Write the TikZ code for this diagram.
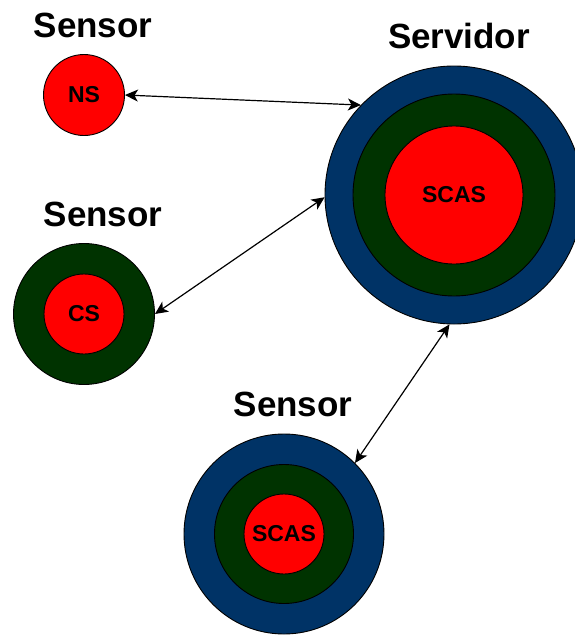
\documentclass[tikz,border=0pt]{standalone}
\usepackage{fontspec}
\setmainfont{Liberation Sans}
\usetikzlibrary{positioning,arrows.meta}

\definecolor{ringblue}{RGB}{0,51,102}
\definecolor{ringgreen}{RGB}{0,51,0}
\definecolor{corered}{RGB}{255,0,0}

\begin{document}
\begin{tikzpicture}[
  x=1pt, y=-1pt,
  ring/.style={draw=black, circle, line width=0.9pt, inner sep=0pt},
  blue ring/.style={ring, fill=ringblue, minimum size=#1},
  green ring/.style={ring, fill=ringgreen, minimum size=#1},
  core/.style={ring, fill=corered, minimum size=#1,
    font=\fontsize{23}{26}\selectfont\bfseries},
  title/.style={font=\fontsize{35}{40}\selectfont\bfseries},
  link/.style={{Stealth[length=13pt,width=12pt,inset=3.5pt]}-{Stealth[length=13pt,width=12pt,inset=3.5pt]}, line width=1.2pt},
]
\useasboundingbox (0,0) rectangle (574,635);

% server: three rings
\node[blue ring=258pt] (srv) at (454,195) {};
\node[green ring=202pt] (srvmid) at (srv.center) {};
\node[core=138pt] (srvcore) at (srv.center) {SCAS};
\node[title] (srvlbl) at (459,36) {Servidor};

% sensor with only the core
\node[core=81pt] (ns) at (84,95) {NS};
\node[title] (nslbl) at (93,25) {Sensor};

% sensor with two rings
\node[green ring=141pt] (cs) at (84,314) {};
\node[core=80pt] (cscore) at (cs.center) {CS};
\node[title] (cslbl) at (103,214) {Sensor};

% sensor with all three rings
\node[blue ring=200pt] (sc) at (284,534) {};
\node[green ring=139pt] (scmid) at (sc.center) {};
\node[core=80pt] (sccore) at (sc.center) {SCAS};
\node[title] (sclbl) at (293,404) {Sensor};

% links to the server
\draw[link] (ns.east) -- (srv.136);
\draw[link] (cs.east) -- (srv.181);
\draw[link] (sc.45) -- (srv.268);
\end{tikzpicture}
\end{document}
